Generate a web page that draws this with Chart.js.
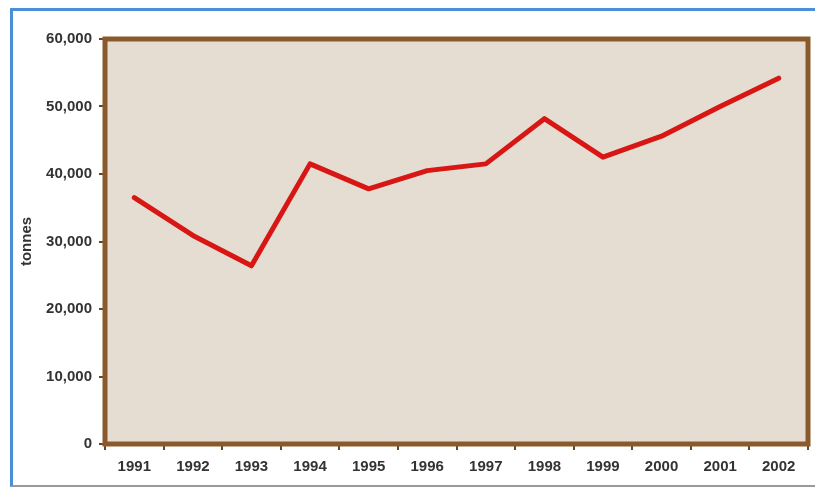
<!DOCTYPE html>
<html>
<head>
<meta charset="utf-8">
<script src="https://cdn.jsdelivr.net/npm/chart.js@4/dist/chart.umd.min.js"></script>
<style>
    html, body { margin: 0; padding: 0; background: #fff; }
    #wrap { position: relative; width: 815px; height: 488px; overflow: hidden; }
    #frame {
        position: absolute; left: 10px; top: 8px; width: 803px; height: 474px;
        border-left: 3px solid #4a90d9; border-top: 3px solid #4a90d9;
        border-bottom: 2px solid #9a9a9a;
    }
    #chart { position: absolute; left: 0; top: 0; }
</style>
</head>
<body>
<div id="wrap">
    <div id="frame"></div>
    <canvas id="chart" width="815" height="488"></canvas>
</div>
<script>
// years along the bottom
const years = ["1991", "1992", "1993", "1994", "1995", "1996", "1997", "1998", "1999", "2000", "2001", "2002"];
// tonnes
const tonnes = [36500, 30900, 26400, 41500, 37800, 40500, 41500, 48200, 42500, 45600, 50000, 54200];
const yTicks = [0, 10000, 20000, 30000, 40000, 50000, 60000];

const plotBox = {
    id: "plotBox",
    beforeDraw(chart) {
        const a = chart.chartArea;
        const ctx = chart.ctx;
        ctx.save();
        ctx.fillStyle = "#e5ddd1";
        ctx.fillRect(a.left, a.top, a.right - a.left, a.bottom - a.top);
        ctx.restore();
    },
    beforeDatasetsDraw(chart) {
        const a = chart.chartArea;
        const ctx = chart.ctx;
        ctx.save();
        ctx.strokeStyle = "#8a5a2c";
        ctx.lineWidth = 5;
        ctx.strokeRect(a.left, a.top, a.right - a.left, a.bottom - a.top);
        ctx.restore();
    }
};

const tickFont = { family: "'Liberation Sans', Arial, sans-serif", size: 15, weight: "bold" };

new Chart(document.getElementById("chart"), {
    type: "line",
    data: {
        labels: years,
        datasets: [{
            data: tonnes,
            borderColor: "#d81614",
            borderWidth: 5,
            pointRadius: 0,
            tension: 0,
            borderCapStyle: "round",
            borderJoinStyle: "round"
        }]
    },
    options: {
        responsive: false,
        animation: false,
        devicePixelRatio: 1,
        layout: { padding: { top: 39, right: 7, bottom: 0, left: 0 } },
        plugins: { legend: { display: false }, tooltip: { enabled: false } },
        scales: {
            x: {
                offset: true,
                grid: { offset: true, drawOnChartArea: false, drawTicks: true, tickLength: 6, color: "#6b4524", lineWidth: 2 },
                border: { display: false },
                ticks: { font: tickFont, color: "#333", padding: 8, maxRotation: 0 },
                afterFit(scale) { scale.height = 44; }
            },
            y: {
                min: 0,
                max: 60000,
                afterBuildTicks(scale) { scale.ticks = yTicks.map(v => ({ value: v })); },
                grid: { drawOnChartArea: false, drawTicks: true, tickLength: 6, color: "#6b4524", lineWidth: 2 },
                border: { display: false },
                ticks: {
                    font: tickFont, color: "#333", padding: 7,
                    callback: v => v.toLocaleString("en-US")
                },
                title: {
                    display: true, text: "tonnes", color: "#333",
                    font: { family: "'Liberation Sans', Arial, sans-serif", size: 15, weight: "bold" },
                    padding: { top: 18, bottom: 0 }
                },
                afterFit(scale) { scale.width = 105; }
            }
        }
    },
    plugins: [plotBox]
});
</script>
</body>
</html>
